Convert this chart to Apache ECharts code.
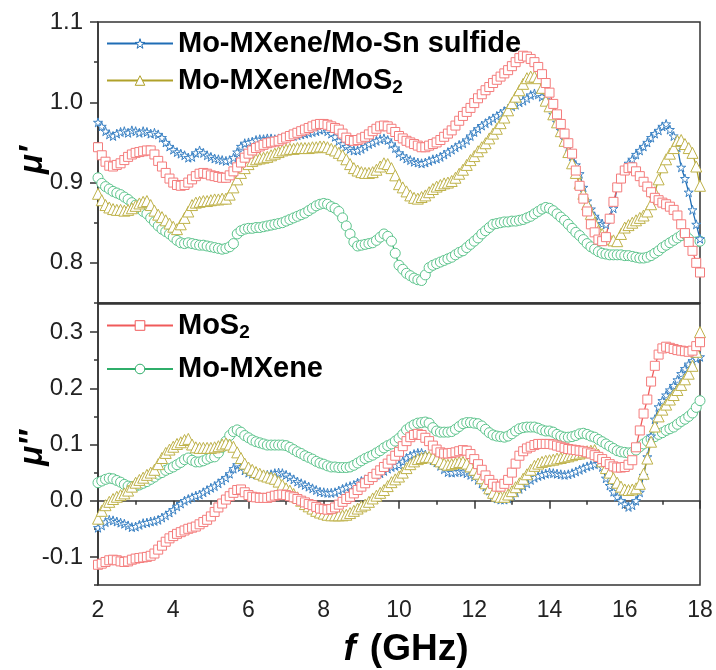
<!DOCTYPE html>
<html>
<head>
<meta charset="utf-8">
<script src="https://cdn.jsdelivr.net/npm/echarts@6/dist/echarts.min.js"></script>
<style>html,body{margin:0;padding:0;background:#fff}#c{width:716px;height:670px}</style>
</head>
<body>
<div id="c"></div>
<script>
// Frequency grid (GHz), 2.0 .. 18.0 step 0.1
const freq = Array.from({length:161}, (_, i) => +(2 + i * 0.1).toFixed(1));

// mu' (real permeability)
const muR_MoSn = [0.975,0.970,0.964,0.960,0.958,0.961,0.963,0.964,0.962,0.965,
0.964,0.962,0.964,0.963,0.961,0.962,0.960,0.956,0.950,0.945,
0.941,0.938,0.936,0.934,0.931,0.932,0.937,0.940,0.937,0.934,
0.932,0.930,0.929,0.928,0.927,0.928,0.931,0.938,0.945,0.949,
0.950,0.951,0.953,0.954,0.954,0.955,0.955,0.954,0.955,0.956,
0.957,0.958,0.958,0.959,0.960,0.961,0.962,0.963,0.964,0.966,
0.966,0.964,0.961,0.957,0.952,0.948,0.945,0.942,0.940,0.940,
0.942,0.945,0.948,0.950,0.952,0.954,0.955,0.953,0.948,0.943,
0.937,0.933,0.930,0.928,0.926,0.925,0.924,0.925,0.927,0.929,
0.930,0.932,0.935,0.938,0.941,0.944,0.947,0.949,0.953,0.958,
0.963,0.967,0.971,0.974,0.977,0.980,0.983,0.986,0.989,0.992,
0.995,0.997,1.000,1.002,1.005,1.009,1.011,1.010,1.007,1.003,
0.995,0.985,0.975,0.965,0.954,0.944,0.933,0.922,0.911,0.894,
0.877,0.867,0.858,0.852,0.849,0.848,0.856,0.868,0.895,0.908,
0.917,0.924,0.929,0.935,0.940,0.945,0.950,0.956,0.961,0.965,
0.970,0.973,0.966,0.958,0.944,0.919,0.905,0.888,0.866,0.848,
0.830];
const muR_MXMoS2 = [0.886,0.878,0.872,0.869,0.867,0.866,0.866,0.865,0.866,0.868,
0.871,0.874,0.876,0.877,0.872,0.865,0.860,0.857,0.853,0.849,
0.845,0.842,0.848,0.856,0.864,0.872,0.875,0.876,0.877,0.877,
0.878,0.879,0.879,0.880,0.880,0.885,0.894,0.904,0.912,0.918,
0.923,0.927,0.929,0.930,0.931,0.932,0.934,0.936,0.938,0.940,
0.941,0.942,0.942,0.943,0.943,0.943,0.943,0.944,0.944,0.945,
0.945,0.944,0.942,0.940,0.937,0.934,0.929,0.923,0.918,0.915,
0.913,0.912,0.912,0.913,0.916,0.920,0.924,0.923,0.918,0.909,
0.898,0.894,0.889,0.884,0.881,0.880,0.882,0.884,0.888,0.892,
0.895,0.897,0.899,0.900,0.902,0.906,0.911,0.916,0.922,0.928,
0.933,0.939,0.944,0.949,0.955,0.961,0.967,0.974,0.981,0.990,
0.999,1.007,1.015,1.023,1.030,1.032,1.032,1.030,1.018,1.002,
0.995,0.985,0.975,0.964,0.952,0.938,0.924,0.912,0.899,0.886,
0.873,0.861,0.850,0.840,0.836,0.832,0.830,0.828,0.827,0.836,
0.844,0.847,0.850,0.853,0.856,0.859,0.864,0.873,0.888,0.904,
0.919,0.929,0.936,0.943,0.952,0.953,0.948,0.943,0.937,0.920,
0.896];
const muR_MoS2 = [0.944,0.934,0.926,0.921,0.920,0.922,0.924,0.928,0.932,0.935,
0.937,0.938,0.939,0.940,0.940,0.935,0.927,0.920,0.912,0.905,
0.900,0.897,0.896,0.897,0.900,0.904,0.908,0.911,0.912,0.911,
0.909,0.908,0.907,0.906,0.906,0.909,0.914,0.919,0.925,0.931,
0.936,0.940,0.943,0.945,0.947,0.949,0.950,0.951,0.952,0.954,
0.956,0.958,0.960,0.962,0.964,0.966,0.968,0.970,0.972,0.973,
0.973,0.972,0.970,0.968,0.966,0.961,0.956,0.953,0.952,0.953,
0.955,0.957,0.960,0.964,0.967,0.970,0.971,0.970,0.967,0.963,
0.958,0.955,0.952,0.950,0.948,0.946,0.944,0.944,0.946,0.948,
0.950,0.953,0.957,0.961,0.965,0.971,0.977,0.983,0.988,0.993,
0.999,1.005,1.010,1.015,1.019,1.024,1.028,1.032,1.036,1.040,
1.045,1.050,1.055,1.058,1.057,1.054,1.050,1.044,1.035,1.024,
1.012,0.998,0.985,0.973,0.961,0.949,0.936,0.915,0.896,0.880,
0.864,0.848,0.838,0.829,0.827,0.832,0.855,0.876,0.894,0.905,
0.915,0.918,0.919,0.914,0.908,0.901,0.895,0.888,0.881,0.878,
0.875,0.873,0.870,0.866,0.859,0.848,0.837,0.826,0.815,0.800,
0.788];
const muR_MX = [0.906,0.899,0.895,0.892,0.889,0.887,0.885,0.882,0.879,0.875,
0.872,0.868,0.864,0.861,0.856,0.851,0.846,0.842,0.839,0.836,
0.832,0.828,0.825,0.824,0.825,0.824,0.823,0.822,0.822,0.821,
0.820,0.819,0.818,0.817,0.818,0.820,0.824,0.836,0.840,0.842,
0.843,0.843,0.844,0.844,0.845,0.846,0.847,0.848,0.849,0.850,
0.852,0.854,0.856,0.858,0.860,0.862,0.865,0.868,0.871,0.873,
0.874,0.873,0.870,0.868,0.864,0.856,0.846,0.836,0.826,0.821,
0.822,0.823,0.824,0.825,0.828,0.832,0.836,0.833,0.827,0.812,
0.797,0.792,0.787,0.784,0.781,0.779,0.778,0.785,0.794,0.797,
0.799,0.801,0.803,0.805,0.807,0.810,0.813,0.815,0.819,0.823,
0.827,0.831,0.836,0.840,0.844,0.848,0.849,0.850,0.851,0.851,
0.852,0.852,0.853,0.854,0.856,0.858,0.861,0.864,0.867,0.869,
0.868,0.865,0.861,0.857,0.853,0.848,0.843,0.838,0.834,0.829,
0.824,0.820,0.817,0.814,0.812,0.811,0.810,0.810,0.810,0.810,
0.809,0.809,0.808,0.807,0.806,0.806,0.807,0.809,0.812,0.815,
0.819,0.822,0.825,0.828,0.831,0.834,0.836,0.830,0.825,0.826,
0.827];

// mu'' (imaginary permeability)
const muI_MoSn = [-0.048,-0.044,-0.038,-0.034,-0.035,-0.037,-0.039,-0.041,-0.044,-0.047,
-0.046,-0.043,-0.040,-0.039,-0.037,-0.036,-0.034,-0.030,-0.026,-0.021,
-0.016,-0.010,-0.005,0.000,0.003,0.006,0.009,0.011,0.015,0.019,
0.023,0.026,0.031,0.036,0.041,0.048,0.057,0.064,0.060,0.054,
0.050,0.048,0.047,0.046,0.046,0.046,0.047,0.049,0.050,0.049,
0.046,0.042,0.038,0.034,0.031,0.028,0.025,0.022,0.019,0.016,
0.015,0.014,0.014,0.015,0.018,0.021,0.024,0.026,0.028,0.032,
0.035,0.038,0.041,0.044,0.046,0.049,0.053,0.057,0.060,0.062,
0.064,0.070,0.076,0.080,0.083,0.085,0.085,0.082,0.077,0.072,
0.068,0.062,0.056,0.051,0.050,0.051,0.052,0.051,0.049,0.046,
0.043,0.037,0.031,0.025,0.018,0.010,0.004,0.002,0.002,0.004,
0.009,0.015,0.021,0.026,0.031,0.037,0.041,0.044,0.046,0.048,
0.050,0.049,0.048,0.047,0.046,0.047,0.049,0.052,0.055,0.058,
0.061,0.063,0.065,0.066,0.060,0.040,0.027,0.016,0.007,0.000,
-0.006,-0.011,-0.008,0.000,0.015,0.045,0.078,0.115,0.145,0.167,
0.178,0.188,0.197,0.205,0.215,0.226,0.235,0.243,0.249,0.253,
0.256];
const muI_MXMoS2 = [-0.032,-0.018,-0.008,-0.002,0.003,0.007,0.010,0.013,0.018,0.025,
0.032,0.037,0.041,0.046,0.050,0.055,0.065,0.076,0.085,0.091,
0.096,0.101,0.104,0.108,0.110,0.100,0.095,0.094,0.094,0.094,
0.094,0.095,0.097,0.100,0.102,0.100,0.096,0.086,0.076,0.066,
0.059,0.055,0.051,0.048,0.045,0.043,0.041,0.039,0.034,0.028,
0.022,0.018,0.012,0.006,0.000,-0.006,-0.010,-0.014,-0.018,-0.021,
-0.023,-0.025,-0.026,-0.026,-0.026,-0.026,-0.025,-0.022,-0.018,-0.014,
-0.010,-0.007,-0.002,0.004,0.009,0.014,0.019,0.026,0.033,0.038,
0.043,0.050,0.058,0.065,0.070,0.074,0.076,0.078,0.078,0.077,
0.074,0.070,0.066,0.064,0.065,0.067,0.069,0.069,0.066,0.061,
0.055,0.048,0.040,0.031,0.022,0.014,0.009,0.007,0.007,0.011,
0.017,0.024,0.031,0.039,0.047,0.055,0.062,0.066,0.069,0.071,
0.072,0.073,0.075,0.076,0.078,0.079,0.081,0.083,0.084,0.086,
0.088,0.089,0.090,0.082,0.070,0.058,0.050,0.040,0.032,0.025,
0.020,0.019,0.020,0.022,0.030,0.048,0.075,0.105,0.132,0.150,
0.162,0.171,0.180,0.188,0.197,0.206,0.216,0.226,0.240,0.265,
0.300];
const muI_MoS2 = [-0.114,-0.112,-0.109,-0.106,-0.105,-0.106,-0.108,-0.109,-0.108,-0.105,
-0.103,-0.102,-0.101,-0.100,-0.098,-0.094,-0.087,-0.080,-0.073,-0.067,
-0.063,-0.059,-0.056,-0.053,-0.050,-0.048,-0.046,-0.042,-0.038,-0.034,
-0.028,-0.020,-0.012,-0.005,0.002,0.008,0.014,0.019,0.020,0.015,
0.010,0.007,0.006,0.005,0.005,0.005,0.007,0.009,0.010,0.011,
0.010,0.008,0.006,0.003,0.000,-0.003,-0.006,-0.008,-0.011,-0.014,
-0.015,-0.016,-0.015,-0.012,-0.007,-0.002,0.003,0.007,0.013,0.019,
0.025,0.031,0.037,0.042,0.048,0.054,0.060,0.066,0.073,0.080,
0.087,0.097,0.106,0.113,0.117,0.119,0.117,0.112,0.106,0.098,
0.091,0.086,0.084,0.084,0.085,0.086,0.088,0.090,0.089,0.083,
0.074,0.065,0.055,0.045,0.037,0.030,0.025,0.025,0.030,0.037,
0.050,0.066,0.080,0.088,0.093,0.096,0.099,0.101,0.101,0.101,
0.101,0.100,0.098,0.096,0.094,0.092,0.091,0.090,0.089,0.088,
0.086,0.084,0.081,0.078,0.074,0.069,0.065,0.061,0.059,0.059,
0.060,0.064,0.072,0.095,0.125,0.155,0.180,0.212,0.240,0.260,
0.271,0.274,0.272,0.270,0.268,0.267,0.266,0.265,0.267,0.275,
0.282];
const muI_MX = [0.032,0.035,0.038,0.040,0.039,0.036,0.033,0.029,0.026,0.025,
0.026,0.028,0.031,0.034,0.038,0.042,0.047,0.050,0.054,0.057,
0.060,0.064,0.068,0.073,0.076,0.072,0.069,0.069,0.071,0.074,
0.077,0.078,0.085,0.095,0.106,0.116,0.123,0.126,0.122,0.116,
0.112,0.108,0.105,0.103,0.101,0.099,0.099,0.099,0.099,0.099,
0.098,0.095,0.091,0.087,0.084,0.080,0.077,0.074,0.070,0.067,
0.065,0.062,0.060,0.060,0.059,0.059,0.059,0.060,0.063,0.067,
0.071,0.075,0.078,0.081,0.085,0.089,0.094,0.098,0.101,0.106,
0.111,0.118,0.126,0.131,0.135,0.138,0.139,0.140,0.138,0.130,
0.124,0.122,0.122,0.122,0.123,0.127,0.132,0.137,0.139,0.139,
0.138,0.137,0.133,0.127,0.121,0.117,0.115,0.114,0.113,0.115,
0.119,0.124,0.128,0.130,0.131,0.131,0.131,0.129,0.126,0.124,
0.124,0.122,0.118,0.115,0.113,0.113,0.114,0.116,0.119,0.120,
0.118,0.115,0.113,0.109,0.105,0.101,0.097,0.093,0.089,0.087,
0.086,0.085,0.086,0.090,0.096,0.101,0.106,0.110,0.114,0.118,
0.121,0.125,0.128,0.131,0.136,0.141,0.145,0.150,0.156,0.166,
0.178];

const xTicks = [2,4,6,8,10,12,14,16,18];
const yTopMajor = [0.8,0.9,1.0,1.1];
const yTopMinor = [0.75,0.85,0.95,1.05];
const yBotMajor = [-0.1,0.0,0.1,0.2,0.3];
const yBotMinor = [-0.15,-0.05,0.05,0.15,0.25];

const names = ['Mo-MXene/Mo-Sn sulfide','Mo-MXene/MoS2','MoS2','Mo-MXene'];

const FONT = 'Liberation Sans, Arial, sans-serif';
const AX = '#333';
const STAR = 'path://M50,0 L61,35 L98,35 L68,57 L79,91 L50,70 L21,91 L32,57 L2,35 L39,35 Z';

const defs = [
  {name:names[3], color:'#2fae6a', mk:'#5cc48c', symbol:'circle', size:10, top:muR_MX, bot:muI_MX},
  {name:names[0], color:'#1f6db5', mk:'#3b82c4', symbol:STAR, size:9, top:muR_MoSn, bot:muI_MoSn},
  {name:names[1], color:'#b0a12a', mk:'#bfb24a', symbol:'triangle', size:11, top:muR_MXMoS2, bot:muI_MXMoS2},
  {name:names[2], color:'#f05a5a', mk:'#f47c7c', symbol:'rect', size:9, top:muR_MoS2, bot:muI_MoS2}
];
const defByName = {};
defs.forEach(d => { defByName[d.name] = d; });

const series = [];
defs.forEach(d => {
  [['top',0],['bot',1]].forEach(([k, gi]) => {
    series.push({
      name: d.name, type:'line', xAxisIndex: gi, yAxisIndex: gi * 2,
      data: freq.map((f, i) => [f, d[k][i]]),
      symbol: d.symbol, symbolSize: d.size, showAllSymbol: true,
      lineStyle: {color: d.color, width: 1.3},
      itemStyle: {color: '#fff', borderColor: d.mk, borderWidth: 1},
      emphasis: {disabled: true}
    });
  });
});

const axLine = {show:true, lineStyle:{color:AX, width:1.5}};
const richLegend = {
  t: {fontSize:29, fontWeight:'bold', fontFamily:FONT, color:'#000', lineHeight:34},
  s: {fontSize:19, fontWeight:'bold', fontFamily:FONT, color:'#000', lineHeight:8, verticalAlign:'bottom'}
};
const legFmt = n => n.endsWith('MoS2') ? '{t|' + n.slice(0, -1) + '}{s|2}' : '{t|' + n + '}';
const legItem = n => ({name:n,
  itemStyle:{color:'#fff', borderColor: defByName[n].color, borderWidth:1}});

function yAxisPair(gi, min, max, major, minor) {
  return [
    {gridIndex:gi, type:'value', min, max, position:'left',
     axisLine: axLine,
     axisTick:{show:true, customValues: major, length:8, lineStyle:{color:AX, width:1.5}},
     axisLabel:{customValues: major, formatter: v => v.toFixed(1), fontSize:24, color:'#222', fontFamily:FONT, margin:15},
     splitLine:{show:false}},
    {gridIndex:gi, type:'value', min, max, position:'left',
     axisLine:{show:false},
     axisTick:{show:true, customValues: minor, length:4, lineStyle:{color:AX, width:1.5}},
     axisLabel:{show:false}, splitLine:{show:false}}
  ];
}

const option = {
  animation: false,
  backgroundColor: '#fff',
  grid: [
    {left:98, top:22, width:602, height:281, show:true, borderColor:AX, borderWidth:1.5, backgroundColor:'transparent'},
    {left:98, top:304, width:602, height:281, show:true, borderColor:AX, borderWidth:1.5, backgroundColor:'transparent'}
  ],
  xAxis: [
    {gridIndex:0, type:'value', min:2, max:18, interval:2, axisLine:axLine,
     axisTick:{show:false}, axisLabel:{show:false}, splitLine:{show:false}},
    {gridIndex:1, type:'value', min:2, max:18, interval:2, axisLine:axLine,
     axisTick:{show:true, length:8, lineStyle:{color:AX, width:1.5}},
     minorTick:{show:true, splitNumber:2, length:4, lineStyle:{color:AX, width:1.5}},
     axisLabel:{fontSize:23, color:'#222', fontFamily:FONT, margin:14, customValues: xTicks},
     splitLine:{show:false}, minorSplitLine:{show:false}}
  ],
  yAxis: [].concat(yAxisPair(0, 0.75, 1.1, yTopMajor, yTopMinor), yAxisPair(1, -0.15, 0.35, yBotMajor, yBotMinor)),
  legend: [
    {data:[legItem(names[0]), legItem(names[1])], orient:'vertical', left:101, top:24, itemWidth:66, itemHeight:12, itemGap:8,
     formatter: legFmt, textStyle:{rich: richLegend}, selectedMode:false},
    {data:[legItem(names[2]), legItem(names[3])], orient:'vertical', left:101, top:306, itemWidth:66, itemHeight:12, itemGap:12,
     formatter: legFmt, textStyle:{rich: richLegend}, selectedMode:false}
  ],
  graphic: [
    {type:'text', x:33, y:160, rotation:Math.PI/2, style:{text:'\u03BC\u2032', font:'italic bold 33px ' + FONT, fill:'#000', align:'center', verticalAlign:'middle'}},
    {type:'text', x:33, y:448, rotation:Math.PI/2, style:{text:'\u03BC\u2033', font:'italic bold 33px ' + FONT, fill:'#000', align:'center', verticalAlign:'middle'}},
    {type:'text', x:406, y:650, style:{text:'{i|f}{sp| }{b|(GHz)}', align:'center', verticalAlign:'middle',
      rich:{i:{fontStyle:'italic', fontWeight:'bold', fontSize:37, fontFamily:FONT, fill:'#000'},
            sp:{fontSize:37, fontFamily:FONT, width:14},
            b:{fontWeight:'bold', fontSize:37, fontFamily:FONT, fill:'#000'}}}}
  ],
  series
};

const chart = echarts.init(document.getElementById('c'), null, {renderer:'canvas'});
chart.setOption(option);
</script>
</body>
</html>
